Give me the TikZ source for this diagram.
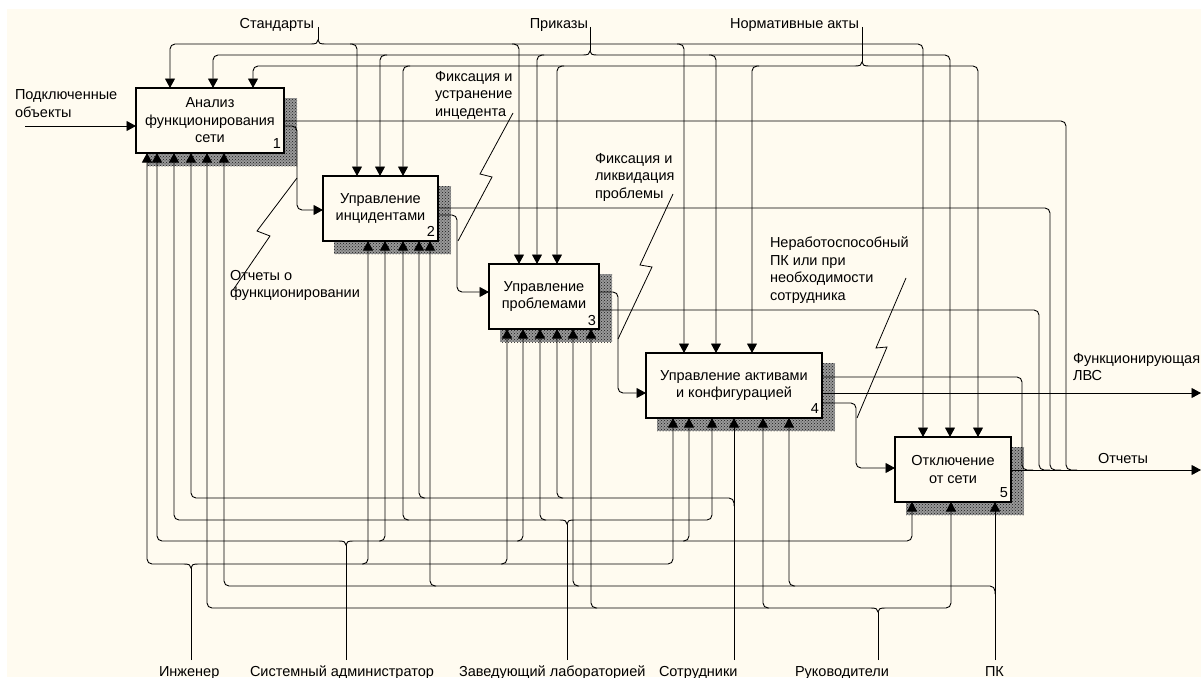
\documentclass[tikz,border=0pt]{standalone}
\usepackage{fontspec}
\setmainfont{Liberation Sans}
\usetikzlibrary{arrows.meta,patterns}
\definecolor{bg}{RGB}{255,251,240}
\begin{document}
\begin{tikzpicture}[x=1pt,y=-1pt,
  every node/.style={font=\fontsize{14.5}{17.5}\selectfont, inner sep=0pt, outer sep=0pt},
  box/.style={draw, line width=2pt, fill=bg, align=center, minimum height=65pt},
  lbl/.style={align=left},
  conn/.style={line width=0.9pt, rounded corners=5pt},
  arr/.style={conn, -{Triangle[length=9.5pt,width=10pt]}},
  squig/.style={line width=0.8pt},
  num/.style={anchor=base east}
]
\useasboundingbox (0,0) rectangle (1201,677);
\fill[white] (0,0) rectangle (1201,677);
\fill[bg] (7,9) rectangle (1201,677);

% shadows
\foreach \a/\b/\c/\d in {136/88/284/153, 323/176/438/241, 489/264/599/329, 646/353/822/418, 895/437/1011/502}{
  \fill[black!40] (\a+11,\b+10) rectangle (\c+13,\d+13);
  \fill[pattern=crosshatch dots, pattern color=black!90] (\a+11,\b+10) rectangle (\c+13,\d+13);
}

% boxes
\node[box, minimum width=148pt] (b1) at (210,120.5) {Анализ\\функционирования\\сети};
\node[box, minimum width=115pt] (b2) at (380.5,208.5) {Управление\\инцидентами};
\node[box, minimum width=110pt] (b3) at (544,296.5) {Управление\\проблемами};
\node[box, minimum width=176pt] (b4) at (734,385.5) {Управление активами\\и конфигурацией};
\node[box, minimum width=116pt] (b5) at (953,469.5) {Отключение\\от сети};
\node[num] (n1) at (281,148) {1};
\node[num] (n2) at (435,236) {2};
\node[num] (n3) at (596,325) {3};
\node[num] (n4) at (819,413) {4};
\node[num] (n5) at (1008,497) {5};

% input
\node[lbl, anchor=north west] (lin) at (15,90) {Подключенные\\объекты};
\coordinate (ins) at (25,126);
\draw[arr] (ins) -- (b1.west |- 0,126);

% control labels
\node[anchor=base east] (cS) at (314,29) {Стандарты};
\node[anchor=base east] (cP) at (588,29) {Приказы};
\node[anchor=base east] (cN) at (859,29) {Нормативные акты};

% Стандарты  y=44, fork 318
\draw[conn] (318,27) -- (318,40);
\draw[line width=0.9pt] (311,44) .. controls (316,44) and (318,43) .. (318,40) .. controls (318,43) and (320,44) .. (325,44);
\draw[arr] (311,44) -- (170,44) -- (170,0 |- b1.north);
\draw[arr] (325,44) -- (923,44) -- (923,0 |- b5.north);
\draw[arr] (350,44) -- (357,44) -- (357,0 |- b2.north);
\draw[arr] (512,44) -- (519,44) -- (519,0 |- b3.north);
\draw[arr] (677,44) -- (684,44) -- (684,0 |- b4.north);

% Приказы y=55, fork 590
\draw[conn] (590,27) -- (590,51);
\draw[line width=0.9pt] (583,55) .. controls (588,55) and (590,54) .. (590,51) .. controls (590,54) and (592,55) .. (597,55);
\draw[arr] (583,55) -- (213,55) -- (213,0 |- b1.north);
\draw[arr] (597,55) -- (950,55) -- (950,0 |- b5.north);
\draw[arr] (387,55) -- (380,55) -- (380,0 |- b2.north);
\draw[arr] (544,55) -- (537,55) -- (537,0 |- b3.north);
\draw[arr] (709,55) -- (716,55) -- (716,0 |- b4.north);

% Нормативные акты y=66, fork 862
\draw[conn] (862,27) -- (862,62);
\draw[line width=0.9pt] (855,66) .. controls (860,66) and (862,65) .. (862,62) .. controls (862,65) and (864,66) .. (869,66);
\draw[arr] (855,66) -- (253,66) -- (253,0 |- b1.north);
\draw[arr] (869,66) -- (978,66) -- (978,0 |- b5.north);
\draw[arr] (410,66) -- (403,66) -- (403,0 |- b2.north);
\draw[arr] (564,66) -- (557,66) -- (557,0 |- b3.north);
\draw[arr] (759,66) -- (752,66) -- (752,0 |- b4.north);

% box-to-box
\draw[arr] (b1.east |- 0,126) -- (297,126) -- (297,210) -- (b2.west |- 0,210);
\draw[arr] (b2.east |- 0,215) -- (457,215) -- (457,292) -- (b3.west |- 0,292);
\draw[arr] (b3.east |- 0,292) -- (618,292) -- (618,393) -- (b4.west |- 0,393);
\draw[arr] (b4.east |- 0,403) -- (856,403) -- (856,468) -- (b5.west |- 0,468);

% outputs
\coordinate (oF) at (1201,393);
\coordinate (oR) at (1201,470);
\draw[arr] (b4.east |- 0,393) -- (oF);
\draw[arr] (b5.east |- 0,470) -- (oR);
\draw[conn] (b1.east |- 0,121) -- (1066,121) -- (1066,470) -- (1077,470);
\draw[conn] (b2.east |- 0,208) -- (1050,208) -- (1050,470) -- (1061,470);
\draw[conn] (b3.east |- 0,310) -- (1039,310) -- (1039,470) -- (1050,470);
\draw[conn] (b4.east |- 0,377) -- (1022,377) -- (1022,470) -- (1033,470);
\node[lbl, anchor=north west] (lF) at (1073,353) {Функционирующая\\ЛВС};
\node[anchor=base west] (lR) at (1098,463) {Отчеты};

% squiggle labels
\node[lbl, anchor=north west] (q1) at (230,270) {Отчеты о\\функционировании};
\node[lbl, anchor=north west] (q2) at (435,71) {Фиксация и\\устранение\\инцедента};
\node[lbl, anchor=north west] (q3) at (595,153) {Фиксация и\\ликвидация\\проблемы};
\node[lbl, anchor=north west] (q4) at (770,237) {Неработоспособный\\ПК или при\\необходимости\\сотрудника};
\draw[squig] (297,178) -- (257,231) -- (270,236) -- (233,290);
\draw[squig] (513,113) -- (480,174) -- (492,177) -- (458,241);
\draw[squig] (673,194) -- (640,265) -- (652,267) -- (618,339);
\draw[squig] (906,278) -- (876,348) -- (887,347) -- (857,418);

% mechanism labels
\node[anchor=base west] (mI) at (159,676) {Инженер};
\node[anchor=base west] (mS) at (250,676) {Системный администратор};
\node[anchor=base west] (mZ) at (459,676) {Заведующий лабораторией};
\node[anchor=base west] (mE) at (659,676) {Сотрудники};
\node[anchor=base west] (mR) at (795,676) {Руководители};
\node[anchor=base west] (mP) at (985,676) {ПК};

% Сотрудники y=498, vertical 734
\draw[arr] (734,660) -- (734,0 |- b4.south);
\draw[arr] (734,506) -- (734,498) -- (191,498) -- (191,0 |- b1.south);
\draw[arr] (425,498) -- (419,498) -- (419,0 |- b2.south);
\draw[arr] (563,498) -- (557,498) -- (557,0 |- b3.south);

% Заведующий y=520, fork 567
\draw[conn] (567,660) -- (567,524);
\draw[line width=0.9pt] (560,520) .. controls (565,520) and (567,521) .. (567,524) .. controls (567,521) and (569,520) .. (574,520);
\draw[arr] (560,520) -- (174,520) -- (174,0 |- b1.south);
\draw[arr] (574,520) -- (712,520) -- (712,0 |- b4.south);
\draw[arr] (409,520) -- (403,520) -- (403,0 |- b2.south);
\draw[arr] (546,520) -- (540,520) -- (540,0 |- b3.south);

% Системный администратор y=541, fork 346
\draw[conn] (346,660) -- (346,545);
\draw[line width=0.9pt] (339,541) .. controls (344,541) and (346,542) .. (346,545) .. controls (346,542) and (348,541) .. (353,541);
\draw[arr] (339,541) -- (157,541) -- (157,0 |- b1.south);
\draw[arr] (353,541) -- (912,541) -- (912,0 |- b5.south);
\draw[arr] (379,541) -- (385,541) -- (385,0 |- b2.south);
\draw[arr] (517,541) -- (523,541) -- (523,0 |- b3.south);
\draw[arr] (683,541) -- (689,541) -- (689,0 |- b4.south);

% Инженер y=564, fork 191
\draw[conn] (191,660) -- (191,568);
\draw[line width=0.9pt] (184,564) .. controls (189,564) and (191,565) .. (191,568) .. controls (191,565) and (193,564) .. (198,564);
\draw[arr] (184,564) -- (147,564) -- (147,0 |- b1.south);
\draw[arr] (198,564) -- (673,564) -- (673,0 |- b4.south);
\draw[arr] (362,564) -- (368,564) -- (368,0 |- b2.south);
\draw[arr] (501,564) -- (507,564) -- (507,0 |- b3.south);

% ПК y=586, vertical 995
\draw[arr] (995,660) -- (995,0 |- b5.south);
\draw[arr] (995,594) -- (995,586) -- (224,586) -- (224,0 |- b1.south);
\draw[arr] (436,586) -- (430,586) -- (430,0 |- b2.south);
\draw[arr] (579,586) -- (573,586) -- (573,0 |- b3.south);
\draw[arr] (795,586) -- (789,586) -- (789,0 |- b4.south);

% Руководители y=608, fork 878
\draw[conn] (878,660) -- (878,612);
\draw[line width=0.9pt] (871,608) .. controls (876,608) and (878,609) .. (878,612) .. controls (878,609) and (880,608) .. (885,608);
\draw[arr] (871,608) -- (207,608) -- (207,0 |- b1.south);
\draw[arr] (885,608) -- (951,608) -- (951,0 |- b5.south);
\draw[arr] (597,608) -- (591,608) -- (591,0 |- b3.south);
\draw[arr] (769,608) -- (763,608) -- (763,0 |- b4.south);
\end{tikzpicture}
\end{document}
